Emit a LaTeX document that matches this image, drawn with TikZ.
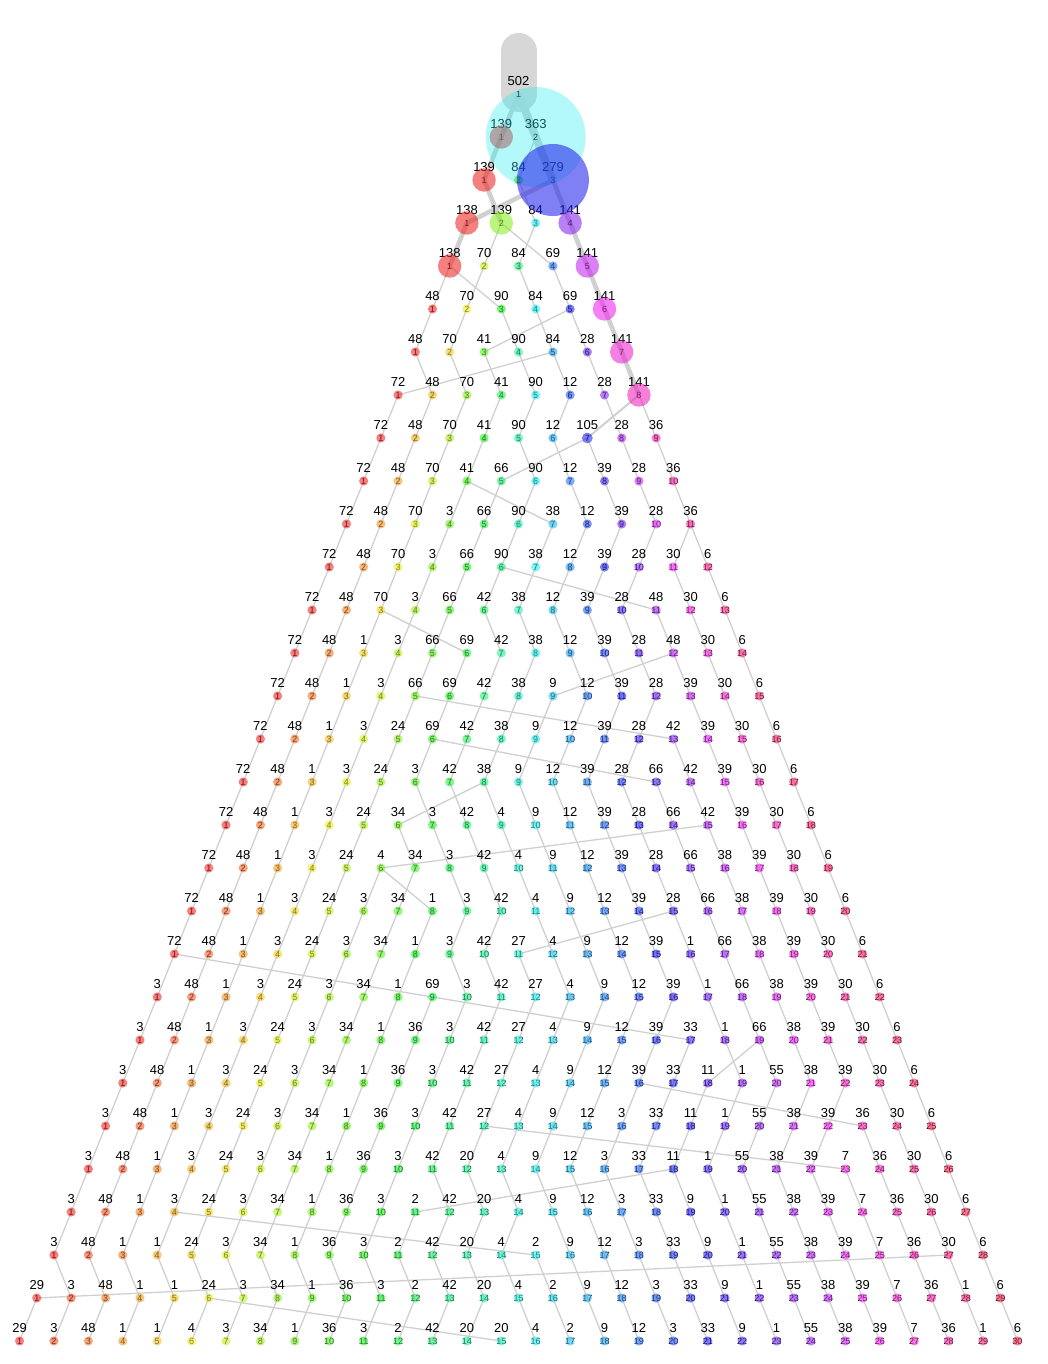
\PassOptionsToPackage{rgb}{xcolor}
\documentclass[tikz,border=0pt]{standalone}
\usepackage{fontspec}
\setmainfont{Liberation Sans}
\definecolor{edgegray}{RGB}{208,208,208}
\definecolor{rootgray}{RGB}{215,215,215}
\tikzset{
  countlabel/.style={font=\fontsize{13}{13}\selectfont, inner sep=0pt},
  idx/.style={font=\fontsize{9}{9}\selectfont, inner sep=0pt},
  dot/.style={circle, inner sep=0pt, draw=none},
  flow/.style={draw=edgegray, line width=#1},
}
% rows: size/parent
\newcommand\treerows{
  1/{139/1,363/1},
  2/{139/1,84/2,279/2},
  3/{138/3,139/1,84/2,141/3},
  4/{138/1,70/2,84/3,69/2,141/4},
  5/{48/1,70/2,90/1,84/3,69/4,141/5},
  6/{48/1,70/2,41/5,90/3,84/4,28/5,141/6},
  7/{72/5,48/1,70/2,41/3,90/4,12/5,28/6,141/7},
  8/{72/1,48/2,70/3,41/4,90/5,12/6,105/8,28/7,36/8},
  9/{72/1,48/2,70/3,41/4,66/7,90/5,12/6,39/7,28/8,36/9},
  10/{72/1,48/2,70/3,3/4,66/5,90/6,38/4,12/7,39/8,28/9,36/10},
  11/{72/1,48/2,70/3,3/4,66/5,90/6,38/7,12/8,39/9,28/10,30/11,6/11},
  12/{72/1,48/2,70/3,3/4,66/5,42/6,38/7,12/8,39/9,28/10,48/6,30/11,6/12},
  13/{72/1,48/2,1/3,3/4,66/5,69/3,42/6,38/7,12/8,39/9,28/10,48/11,30/12,6/13},
  14/{72/1,48/2,1/3,3/4,66/5,69/6,42/7,38/8,9/12,12/9,39/10,28/11,39/12,30/13,6/14},
  15/{72/1,48/2,1/3,3/4,24/5,69/6,42/7,38/8,9/9,12/10,39/11,28/12,42/5,39/13,30/14,6/15},
  16/{72/1,48/2,1/3,3/4,24/5,3/6,42/7,38/8,9/9,12/10,39/11,28/12,66/6,42/13,39/14,30/15,6/16},
  17/{72/1,48/2,1/3,3/4,24/5,34/8,3/6,42/7,4/8,9/9,12/10,39/11,28/12,66/13,42/14,39/15,30/16,6/17},
  18/{72/1,48/2,1/3,3/4,24/5,4/15,34/6,3/7,42/8,4/9,9/10,12/11,39/12,28/13,66/14,38/15,39/16,30/17,6/18},
  19/{72/1,48/2,1/3,3/4,24/5,3/6,34/7,1/6,3/8,42/9,4/10,9/11,12/12,39/13,28/14,66/15,38/16,39/17,30/18,6/19},
  20/{72/1,48/2,1/3,3/4,24/5,3/6,34/7,1/8,3/9,42/10,27/15,4/11,9/12,12/13,39/14,1/15,66/16,38/17,39/18,30/19,6/20},
  21/{3/1,48/2,1/3,3/4,24/5,3/6,34/7,1/8,69/1,3/9,42/10,27/11,4/12,9/13,12/14,39/15,1/16,66/17,38/18,39/19,30/20,6/21},
  22/{3/1,48/2,1/3,3/4,24/5,3/6,34/7,1/8,36/9,3/10,42/11,27/12,4/13,9/14,12/15,39/16,33/9,1/17,66/18,38/19,39/20,30/21,6/22},
  23/{3/1,48/2,1/3,3/4,24/5,3/6,34/7,1/8,36/9,3/10,42/11,27/12,4/13,9/14,12/15,39/16,33/17,11/19,1/18,55/19,38/20,39/21,30/22,6/23},
  24/{3/1,48/2,1/3,3/4,24/5,3/6,34/7,1/8,36/9,3/10,42/11,27/12,4/13,9/14,12/15,3/16,33/17,11/18,1/19,55/20,38/21,39/22,36/16,30/23,6/24},
  25/{3/1,48/2,1/3,3/4,24/5,3/6,34/7,1/8,36/9,3/10,42/11,20/12,4/13,9/14,12/15,3/16,33/17,11/18,1/19,55/20,38/21,39/22,7/12,36/23,30/24,6/25},
  26/{3/1,48/2,1/3,3/4,24/5,3/6,34/7,1/8,36/9,3/10,2/18,42/11,20/12,4/13,9/14,12/15,3/16,33/17,9/18,1/19,55/20,38/21,39/22,7/23,36/24,30/25,6/26},
  27/{3/1,48/2,1/3,1/4,24/5,3/6,34/7,1/8,36/9,3/10,2/11,42/12,20/13,4/14,2/4,9/15,12/16,3/17,33/18,9/19,1/20,55/21,38/22,39/23,7/24,36/25,30/26,6/27},
  28/{29/27,3/1,48/2,1/3,1/4,24/5,3/6,34/7,1/8,36/9,3/10,2/11,42/12,20/13,4/14,2/15,9/16,12/17,3/18,33/19,9/20,1/21,55/22,38/23,39/24,7/25,36/26,1/27,6/28},
  29/{29/1,3/2,48/3,1/4,1/5,4/6,3/7,34/8,1/9,36/10,3/11,2/12,42/13,20/14,20/6,4/15,2/16,9/17,12/18,3/19,33/20,9/21,1/22,55/23,38/24,39/25,7/26,36/27,1/28,6/29}}
\begin{document}
\begin{tikzpicture}[x=1pt, y=-1pt]
\useasboundingbox (0,0) rectangle (1048,1364);
% root of the tree
\coordinate (top) at (518.5,51);
\coordinate (n0-1) at (518.5,94);
\draw[rootgray, line width=36pt, line cap=round] (top) -- (n0-1);
% connectors
\foreach \r/\row in \treerows {
  \pgfmathtruncatemacro\up{\r-1}
  \foreach \v/\p [count=\i] in \row {
    \pgfmathsetmacro\x{518.5+(\i-1-\r/2)*34.41}
    \pgfmathsetmacro\y{94+43*\r}
    \pgfmathsetmacro\wid{\v>200 ? 8 : (\v>=130 ? 4.6 : (\v>100 ? 2 : 1.3))}
    \coordinate (n\r-\i) at (\x,\y);
    \draw[flow=\wid pt] (n\r-\i) -- (n\up-\p);
  }
}
% labels
\node[countlabel] (v0-1) at (518.5,81) {502};
\node[idx] (k0-1) at (n0-1) {1};
\foreach \r/\row in \treerows {
  \foreach \v/\p [count=\i] in \row {
    \node[countlabel] (v\r-\i) at ([yshift=13pt]n\r-\i) {\v};
    \node[idx] (k\r-\i) at (n\r-\i) {\i};
  }
}
% circles on top
\foreach \r/\row in \treerows {
  \foreach \v/\p [count=\i] in \row {
    \pgfmathsetmacro\hue{(\i-1)/(\r+1)}
    \pgfmathsetmacro\diam{2*(\v>300 ? 50 : (\v>200 ? 36 : (\v>=130 ? 11.7 : (\v>100 ? 5.4 : 4.6))))}
    \pgfmathsetmacro\op{\v>300 ? 0.35 : 0.58}
    \definecolor{huecol}{hsb}{\hue,0.85,0.93}
    \colorlet{dotcol}[rgb]{huecol}
    \node[dot, minimum size=\diam pt, fill=dotcol, fill opacity=\op] (d\r-\i) at (n\r-\i) {};
  }
}
\end{tikzpicture}
\end{document}
